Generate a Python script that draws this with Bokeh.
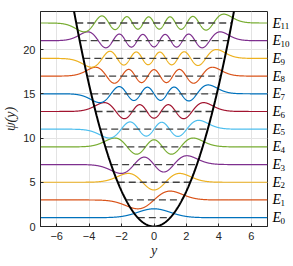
import numpy as np
from numpy.polynomial.hermite import hermval
from bokeh.plotting import figure
from bokeh.models import FixedTicker, Range1d, LinearAxis
from bokeh.embed import file_html
from bokeh.resources import INLINE

# ---- data ----
levels = [0, 1, 2, 3, 4, 5, 6, 7, 8, 9, 10, 11]
energies = [1, 3, 5, 7, 9, 11, 13, 15, 17, 19, 21, 23]
level_subs = ["0", "1", "2", "3", "4", "5", "6", "7", "8", "9", "10", "11"]
x_ticks = [-6, -4, -2, 0, 2, 4, 6]
y_ticks = [0, 5, 10, 15, 20]
palette = ["#0072BD", "#D95319", "#EDB120", "#7E2F8E", "#77AC30", "#4DBEEE", "#A2142F"]

x_lo, x_hi = -7, 7
y_lo, y_hi = 0, 24.3
sub_shift = 0.36  # subscript drop, in data units

p = figure(frame_width=227, frame_height=215, output_backend="svg", toolbar_location=None,
           x_range=Range1d(x_lo, x_hi), y_range=Range1d(y_lo, y_hi),
           min_border_left=38, min_border_right=20, min_border_top=11, min_border_bottom=36)
p.background_fill_color = "white"
p.border_fill_color = "white"
p.outline_line_color = "#262626"
p.outline_line_width = 1

ys = np.linspace(x_lo, x_hi, 1401)

# wavefunctions
for n, E in zip(levels, energies):
    c = np.zeros(n + 1)
    c[n] = 1.0
    psi = hermval(ys, c) * np.exp(-ys ** 2 / 2)
    psi = psi / np.abs(psi).max()
    p.line(ys, E + psi, line_color=palette[n % len(palette)], line_width=1.2)

# energy level dashed lines inside classical region
for E in energies:
    t = np.sqrt(E)
    p.line([-t, t], [E, E], line_color="#404040", line_width=1.3, line_dash="7 4")

# potential
yv = np.linspace(-np.sqrt(y_hi + 1), np.sqrt(y_hi + 1), 400)
p.line(yv, yv ** 2, line_color="black", line_width=2)

# axes
for ax in (p.xaxis, p.yaxis):
    ax.major_tick_in = 3
    ax.major_tick_out = 0
    ax.minor_tick_line_color = None
    ax.axis_line_color = "#262626"
    ax.major_tick_line_color = "#262626"
    ax.major_label_text_font = "Liberation Sans"
    ax.major_label_text_font_size = "11px"
    ax.major_label_text_color = "#262626"
    ax.major_label_standoff = 5
p.xaxis.ticker = FixedTicker(ticks=x_ticks)
p.yaxis.ticker = FixedTicker(ticks=y_ticks)
p.xaxis.axis_label = "y"
p.yaxis.axis_label = "ψ(y)"
for ax in (p.xaxis, p.yaxis):
    ax.axis_label_text_font = "Liberation Serif"
    ax.axis_label_text_font_style = "italic"
    ax.axis_label_text_font_size = "14px"
    ax.axis_label_text_color = "#262626"
p.xaxis.axis_label_standoff = 0
p.yaxis.axis_label_standoff = 2

p.grid.grid_line_color = "#e3e3e3"
p.grid.grid_line_width = 1


def bare_axis(ax):
    ax.axis_line_color = None
    ax.major_tick_line_color = None
    ax.minor_tick_line_color = None
    ax.major_tick_in = 0
    ax.major_tick_out = 0
    ax.major_label_text_font = "Liberation Serif"
    ax.major_label_text_color = "black"


# level labels on the right: "E" then the subscript index
e_axis = LinearAxis(ticker=FixedTicker(ticks=energies),
                    major_label_overrides={E: "E" for E in energies})
bare_axis(e_axis)
e_axis.major_label_standoff = 5
e_axis.major_label_text_font_style = "italic"
e_axis.major_label_text_font_size = "14px"
p.add_layout(e_axis, "right")

sub_pos = [E - sub_shift for E in energies]
s_axis = LinearAxis(ticker=FixedTicker(ticks=sub_pos),
                    major_label_overrides={s: lab for s, lab in zip(sub_pos, level_subs)})
bare_axis(s_axis)
s_axis.major_label_standoff = -4
s_axis.major_label_text_font_size = "9px"
p.add_layout(s_axis, "right")

open("out.html", "w").write(file_html(p, INLINE))
